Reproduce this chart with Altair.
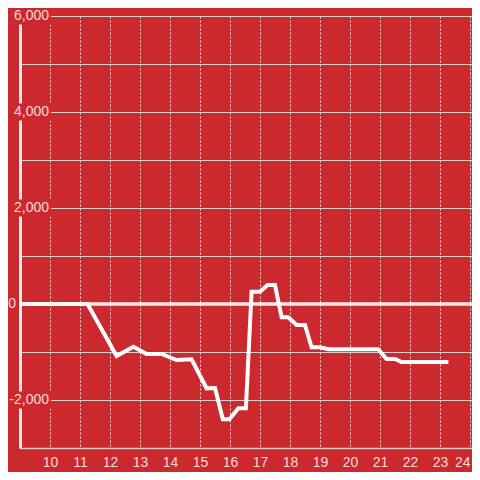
import altair as alt
import pandas as pd

# Data
hours = [9.0, 11.25, 12.22, 12.78, 13.22, 13.72, 14.22, 14.72, 15.22, 15.5, 15.76,
         15.98, 16.28, 16.53, 16.72, 17.0, 17.25, 17.5, 17.72, 17.94, 18.22, 18.5,
         18.72, 19.0, 19.28, 20.94, 21.22, 21.5, 21.72, 23.28]
values = [0, 0, -1083, -889, -1042, -1042, -1167, -1153, -1757, -1750, -2403,
          -2403, -2173, -2173, 257, 257, 396, 396, -278, -278, -438, -438,
          -903, -903, -944, -944, -1146, -1146, -1208, -1208]

x_ticks = list(range(10, 25))
y_grid = [-3000, -2000, -1000, 0, 1000, 2000, 3000, 4000, 5000, 6000]
y_labels = [-2000, 0, 2000, 4000, 6000]
y_label_text = ["-2,000", "0", "2,000", "4,000", "6,000"]

BG = "#cc292e"
LABEL = "#f6dada"
FONT = "Liberation Sans"

df = pd.DataFrame({"h": hours, "v": values})
lab = pd.DataFrame({"v": y_labels, "t": y_label_text})

xs = alt.Scale(domain=[9, 24.067], nice=False, zero=False)
ys = alt.Scale(domain=[-3000, 6000], nice=False, zero=False)

base = alt.Chart(df)

line = base.mark_line(color="white", strokeWidth=4, strokeJoin="miter").encode(
    x=alt.X("h:Q", scale=xs, axis=alt.Axis(values=x_ticks, title=None, grid=True,
            gridColor="#f3dede", gridDash=[2, 2], gridWidth=1, ticks=False,
            domain=True, domainColor="#d8c8c8", domainWidth=1.5, labelFlush=5,
            labelColor=LABEL, labelFontSize=14, labelFont=FONT, labelPadding=7)),
    y=alt.Y("v:Q", scale=ys, axis=alt.Axis(values=y_grid, title=None, grid=True,
            gridColor="#d9d0d0", gridWidth=1, ticks=False, labels=False,
            domain=True, domainColor="#f4ecec", domainWidth=3)),
)

zero = alt.Chart(pd.DataFrame({"v": [0]})).mark_rule(color="#f4ecec", strokeWidth=3.5).encode(
    y=alt.Y("v:Q", scale=ys)
)

cover = alt.Chart(lab).transform_filter("datum.v != 0").mark_tick(
    orient="horizontal", color=BG, size=43, thickness=17, opacity=1
).encode(x=alt.value(9.5), y=alt.Y("v:Q", scale=ys))

labels_nz = alt.Chart(lab).transform_filter("datum.v != 0").mark_text(
    align="right", baseline="middle", fontSize=14, font=FONT, color=LABEL
).encode(x=alt.value(29), y=alt.Y("v:Q", scale=ys), text="t:N")

labels_z = alt.Chart(lab).transform_filter("datum.v == 0").mark_text(
    align="right", baseline="middle", fontSize=14, font=FONT, color=LABEL
).encode(x=alt.value(-4), y=alt.Y("v:Q", scale=ys), text="t:N")

chart = alt.layer(cover, zero, line, labels_nz, labels_z).properties(
    width=452, height=432, background=BG,
    autosize=alt.AutoSizeParams(type="none"),
    padding={"left": 12, "top": 8, "right": 0, "bottom": 24},
).configure_view(stroke=None)

chart.save("out.html", embed_options={"renderer": "svg", "actions": False})
